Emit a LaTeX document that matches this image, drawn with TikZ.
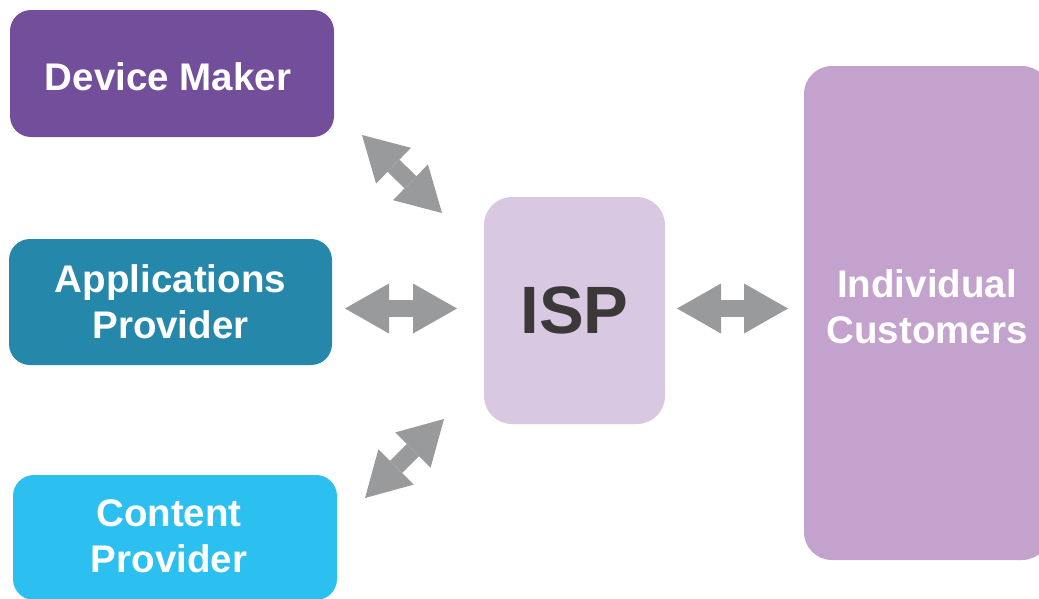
\documentclass[tikz,border=0pt]{standalone}
\usepackage{fontspec}
\setmainfont{Liberation Sans}
\usetikzlibrary{arrows.meta}

\definecolor{devpurple}{HTML}{734F9B}
\definecolor{appteal}{HTML}{2587AA}
\definecolor{contentblue}{HTML}{2CC0F0}
\definecolor{isplilac}{HTML}{D9C8E2}
\definecolor{custlilac}{HTML}{C3A2CD}
\definecolor{linkgray}{HTML}{999A9C}
\definecolor{ispink}{HTML}{3A3839}

\tikzset{
  boxtext/.style={align=center, text=white, inner sep=0pt,
    font=\bfseries\fontsize{38.5}{46}\selectfont},
  party/.style={rounded corners=21pt, inner sep=0pt, boxtext},
  hub/.style={rounded corners=28pt, inner sep=0pt, align=center},
  link/.style={draw=linkgray, line width=17pt,
    {Triangle[length=44pt,width=50pt,line width=0pt]}-{Triangle[length=44pt,width=50pt,line width=0pt]}}
}

\begin{document}
\begin{tikzpicture}[x=1pt,y=-1pt]
  \useasboundingbox (0,0) rectangle (1039,598);
  \clip (0,0) rectangle (1039,598);

  % service providers on the left
  \node[party, fill=devpurple, minimum width=324pt, minimum height=127pt]
    (dev) at (172,73.5) {};
  \node[boxtext] (devlbl) at ([xshift=-4pt,yshift=-3pt]dev.center) {Device Maker};
  \node[party, fill=appteal, minimum width=323pt, minimum height=126pt]
    (app) at (170.5,302) {Applications\\Provider};
  \node[party, fill=contentblue, minimum width=324pt, minimum height=125pt]
    (con) at (175,537.5) {};
  \node[boxtext] (conlbl) at ([xshift=-6pt,yshift=1pt]con.center) {Content\\Provider};

  % the ISP in the middle
  \node[hub, fill=isplilac, minimum width=181pt, minimum height=227pt,
    text=ispink, font=\bfseries\fontsize{67}{70}\selectfont]
    (isp) at (574.5,310.5) {ISP};

  % customers on the right
  \node[hub, fill=custlilac, minimum width=246pt, minimum height=494pt]
    (cust) at (927,313) {};
  \node[boxtext] (custlbl) at ([yshift=6pt]cust.center) {Individual\\Customers};

  % two-way links
  \coordinate (devEnd) at (362,135);
  \coordinate (devIsp) at (442,213);
  \coordinate (appEnd) at (345,308.5);
  \coordinate (appIsp) at (457,308.5);
  \coordinate (conEnd) at (365,498);
  \coordinate (conIsp) at (444,419);
  \coordinate (ispOut) at (677,308.5);
  \coordinate (custIn) at (788,308.5);

  \draw[link] (devEnd) -- (devIsp);
  \draw[link] (appEnd) -- (appIsp);
  \draw[link] (conEnd) -- (conIsp);
  \draw[link] (ispOut) -- (custIn);
\end{tikzpicture}
\end{document}
